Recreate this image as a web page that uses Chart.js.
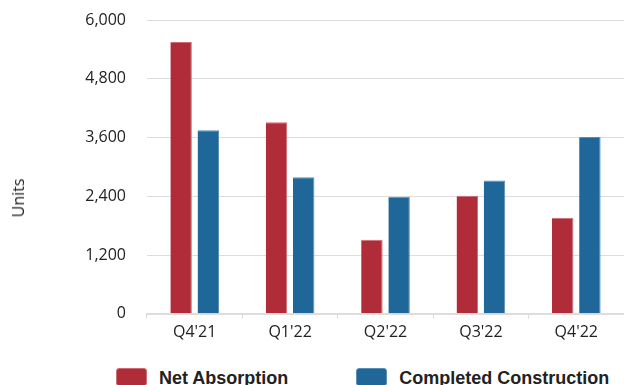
<!DOCTYPE html>
<html>
<head>
<meta charset="utf-8">
<script src="https://cdn.jsdelivr.net/npm/chart.js@4/dist/chart.umd.min.js"></script>
<style>
  html, body { margin: 0; padding: 0; width: 624px; height: 385px; overflow: hidden; background: #fff; }
  .wrap { position: relative; width: 624px; height: 385px; }
  .chart-box { position: absolute; left: 0; top: 0; width: 624px; height: 350px; }
  .y-title {
    position: absolute; left: 18px; top: 198px;
    transform: translate(-50%, -50%) rotate(-90deg);
    font: 16px 'Open Sans', sans-serif; color: #222; white-space: nowrap;
  }
  .graph-legend__ul { position: absolute; left: 116px; top: 368px; display: flex; gap: 68px; margin: 0; padding: 0; list-style: none; }
  .graph-legend__li { display: flex; align-items: flex-start; }
  .graph-legend__swatch { width: 31px; height: 18px; border-radius: 3px; margin-right: 12px; box-sizing: border-box; }
  .graph-legend__label { font: bold 18px 'Liberation Sans', Arial, sans-serif; color: #222; line-height: 18px; margin-top: 1px; white-space: nowrap; }
</style>
</head>
<body>
<div class="wrap">
  <div class="chart-box"><canvas id="myChart"></canvas></div>
  <div class="y-title">Units</div>
  <div id="chartLegend"></div>
</div>
<script>
  // chart values
  const quarters = ["Q4'21", "Q1'22", "Q2'22", "Q3'22", "Q4'22"];
  const netAbsorption = [5550, 3910, 1510, 2410, 1960];
  const completedConstruction = [3750, 2790, 2390, 2720, 3610];
  const seriesLabels = ["Net Absorption", "Completed Construction"];
  const yMin = 0, yMax = 6000, yStep = 1200;

  const colors = ["#b02c39", "#1f6699"];
  const borders = ["#cf6b75", "#5a8fb8"];
  const gridColor = "#dddddd";
  const textColor = "#222222";

  Chart.defaults.font.family = "'Open Sans', sans-serif";
  Chart.defaults.font.size = 16;
  Chart.defaults.color = textColor;

  let ctx = document.getElementById("myChart").getContext("2d");

  let myChart = new Chart(ctx, {
    type: "bar",
    data: {
      labels: quarters,
      datasets: [
        {
          label: seriesLabels[0],
          data: netAbsorption,
          backgroundColor: colors[0],
          borderColor: borders[0],
          borderWidth: { top: 1, right: 1, left: 0, bottom: 0 },
        },
        {
          label: seriesLabels[1],
          data: completedConstruction,
          backgroundColor: colors[1],
          borderColor: borders[1],
          borderWidth: { top: 1, right: 1, left: 0, bottom: 0 },
        },
      ],
    },
    options: {
      responsive: true,
      maintainAspectRatio: false,
      animation: false,
      categoryPercentage: 0.57,
      barPercentage: 0.79,
      layout: { padding: { top: 20, right: 0, bottom: 4, left: 0 } },
      plugins: {
        legend: { display: false },
        tooltip: { enabled: false },
      },
      scales: {
        x: {
          grid: {
            display: true,
            drawOnChartArea: false,
            drawTicks: true,
            tickLength: 5,
            color: gridColor,
          },
          border: { display: true, color: gridColor, width: 2 },
          ticks: { padding: 4, color: textColor },
        },
        y: {
          min: yMin,
          max: yMax,
          ticks: { stepSize: yStep, padding: 1, color: textColor },
          // invisible tick marks give the gap between labels and plot
          grid: { color: gridColor, drawTicks: true, tickLength: 20, tickColor: "rgba(0,0,0,0)" },
          border: { display: false },
          afterFit: function (scale) {
            scale.width = 147; // room for the html axis title
          },
        },
      },
    },
  });

  // html legend, same idea as generateLegend
  function buildLegend(chart) {
    let text = [];
    text.push("<ul class='graph-legend__ul'>");
    chart.data.datasets.forEach(function (ds) {
      text.push("<li class='graph-legend__li'>");
      text.push(
        '<span class="graph-legend__swatch" style="background-color:' +
          ds.backgroundColor +
          ";border:1px solid " +
          ds.borderColor +
          '"></span><span class="graph-legend__label">' +
          ds.label +
          "</span>"
      );
      text.push("</li>");
    });
    text.push("</ul>");
    return text.join("");
  }
  document.getElementById("chartLegend").innerHTML = buildLegend(myChart);
</script>
</body>
</html>
